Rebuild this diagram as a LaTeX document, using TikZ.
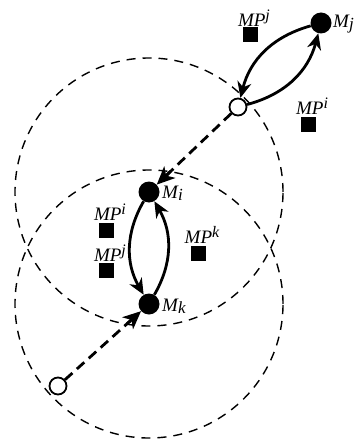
\documentclass[tikz,border=0pt]{standalone}
\usepackage{fontspec}
\usepackage{tikz}
\usetikzlibrary{arrows.meta,calc}
\setmainfont{Liberation Serif}
\newcommand{\mplabel}[1]{\textit{MP\raisebox{6pt}{\fontsize{16}{18}\selectfont #1}}}
\newcommand{\mlabel}[1]{\textit{M\raisebox{-2pt}{\fontsize{17}{19}\selectfont #1}}}

\begin{document}
\begin{tikzpicture}[x=1pt,y=-1pt,
    agent/.style={circle,fill=black,inner sep=0pt,minimum size=21pt},
    base/.style={circle,draw=black,line width=1.8pt,fill=white,inner sep=0pt,minimum size=17pt},
    mpoint/.style={fill=black,inner sep=0pt,minimum size=15pt},
    lbl/.style={font=\fontsize{19}{22}\selectfont,inner sep=0pt},
    reach/.style={dash pattern=on 9pt off 7pt,line width=1.4pt},
    move/.style={-{Stealth[length=16pt,width=14pt,inset=5pt]},line width=2.8pt},
    hop/.style={line width=2.8pt,dash pattern=on 10pt off 6pt,shorten >=14pt},
    hoptip/.style={-{Stealth[length=18pt,width=16pt,inset=5pt]},line width=2.8pt}]
    \useasboundingbox (0,0) rectangle (358,441);

    % Ranges
    \draw[reach] (149,192) circle (134pt);
    \draw[reach] (149,304) circle (134pt);

    % Agents
    \node[agent] (mj) at (321,23) {};
    \node[agent] (mi) at (149,192) {};
    \node[agent] (mk) at (149,304) {};
    \node[lbl,anchor=west] (lj) at (333,24) {\mlabel{j}};
    \node[lbl,anchor=west] (li) at (162,193) {\mlabel{i}};
    \node[lbl,anchor=west] (lk) at (162,306) {\mlabel{k}};

    % Bases
    \node[base] (bt) at (238,107) {};
    \node[base] (bb) at (58,386) {};

    % Meeting points
    \node[mpoint] (pj1) at (250,35) {};
    \node[lbl,anchor=south] at (254,27) {\mplabel{j}};
    \node[mpoint] (pi1) at (308,124) {};
    \node[lbl,anchor=south] at (312,115) {\mplabel{i}};
    \node[mpoint] (pi2) at (106,230) {};
    \node[lbl,anchor=south] at (110,221) {\mplabel{i}};
    \node[mpoint] (pj2) at (106,270) {};
    \node[lbl,anchor=south] at (110,262) {\mplabel{j}};
    \node[mpoint] (pk) at (198,253) {};
    \node[lbl,anchor=south] at (202,244) {\mplabel{k}};

    % Moves
    \draw[move] (mj) to[bend right=30] (bt);
    \draw[move] (bt) to[bend right=30] (mj);
    \draw[move] (mi) to[bend right=30] (mk);
    \draw[move] (mk) to[bend right=30] (mi);
    \draw[hop] (bt) -- (mi);
    \draw[hoptip] ($(mi)!30pt!(bt)$) -- (mi);
    \draw[hop] (bb) -- (mk);
    \draw[hoptip] ($(mk)!30pt!(bb)$) -- (mk);
\end{tikzpicture}
\end{document}
